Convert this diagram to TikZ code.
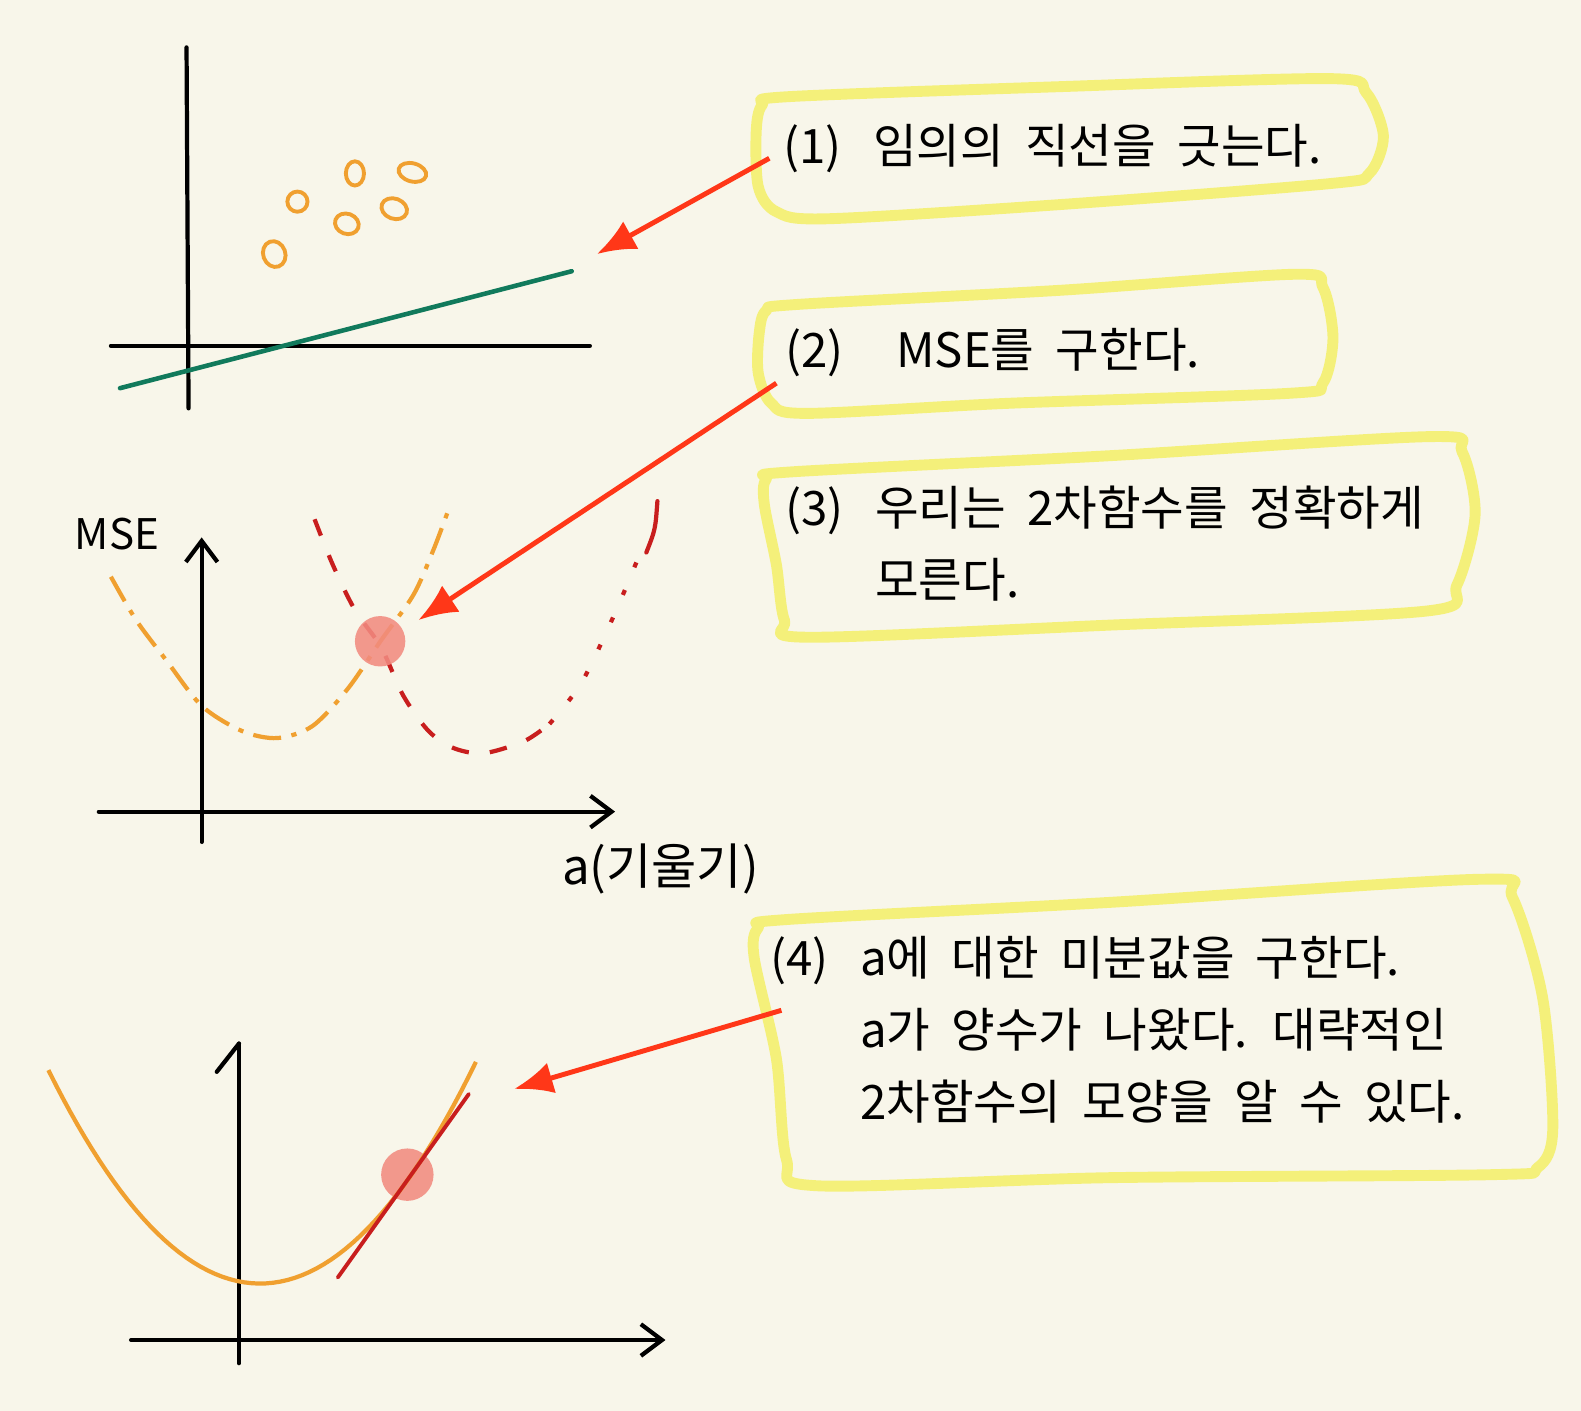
\documentclass[tikz,border=0pt]{standalone}
\usepackage{fontspec}
\newfontfamily\krfont[WordSpace=2]{Noto Sans CJK KR}
\usetikzlibrary{arrows.meta,positioning}
\definecolor{paper}{HTML}{F8F6EA}
\definecolor{marker}{HTML}{F4F07A}
\definecolor{dotorange}{HTML}{F0A030}
\definecolor{fitgreen}{HTML}{117A5C}
\definecolor{msered}{HTML}{C81E1E}
\definecolor{pointpink}{HTML}{F28B80}
\definecolor{arrowred}{HTML}{FF3718}

\tikzset{
  axis/.style={line width=1.2pt,line cap=round},
  barb/.style={-{Straight Barb[length=6pt,width=9pt,line width=1.2pt]}},
  ring/.style={dotorange,line width=1.1pt},
  marker line/.style={marker,line width=3.1pt,line join=round},
  pointer/.style={arrowred,line width=1.4pt,-{Latex[length=11pt,width=9pt]}},
  spot/.style={pointpink,fill opacity=0.88},
  note/.style={font={\krfont\fontsize{13.5}{20.5}\selectfont},inner sep=0,anchor=west},
  hand/.style={font={\krfont\fontsize{12}{14}\selectfont},inner sep=0},
}
\newcommand{\stepnote}[2]{\begin{tabular}{@{}l@{\hspace{9pt}}l@{}}#1 & #2\end{tabular}}

\begin{document}
\begin{tikzpicture}[x=0.01008cm,y=-0.01008cm]
\useasboundingbox (0,0) rectangle (1568,1399);
\fill[paper] (0,0) rectangle (1568,1399);
% (1) data points and a first line
\draw[axis] (185,47) -- (187,405);
\draw[axis] (110,343) -- (585,343);
\foreach \x/\y/\rx/\ry/\a in {272/252/11/13/20,295/200/10/10/0,352/172/9/12/0,409/171/14/9/-15,344/222/12/10/-20,391/207/13/10/-20}
  \draw[ring,rotate around={\a:(\x,\y)}] (\x,\y) ellipse[x radius=\rx,y radius=\ry];
\draw[fitgreen,line width=1.3pt,line cap=round] (119,385) -- (567,269);

% notes
\draw[marker line] plot[smooth cycle,tension=0.5] coordinates {(750,130) (756,104) (780,96) (1050,86) (1320,78) (1355,92) (1372,135) (1358,172) (1320,182) (1050,203) (820,217) (770,210) (752,185)};
\node[note] (n1) at (776,148) {\stepnote{(1)}{임의의 직선을 긋는다.}};
\draw[marker line] plot[smooth cycle,tension=0.5] coordinates {(753,330) (760,308) (790,302) (1050,288) (1285,272) (1312,285) (1322,335) (1312,380) (1280,390) (1000,400) (800,410) (765,400) (752,370)};
\node[note] (n2) at (778,350) {\begin{tabular}{@{}l@{\hspace{15pt}}l@{}}(2) & MSE를 구한다.\end{tabular}};
\draw[marker line] plot[smooth cycle,tension=0.5] coordinates {(758,500) (760,475) (785,468) (1100,452) (1420,433) (1450,448) (1463,510) (1445,580) (1415,606) (1100,620) (800,632) (778,615) (770,560)};
\node[note] (n3) at (778,543) {\stepnote{(3)}{우리는 2차함수를 정확하게\\ & 모른다.}};
\draw[marker line] plot[smooth cycle,tension=0.5] coordinates {(748,950) (752,920) (780,912) (1100,895) (1470,872) (1500,890) (1530,990) (1540,1120) (1525,1158) (1480,1165) (1100,1168) (810,1176) (780,1150) (770,1050)};
\node[note] (n4) at (763,1025) {\stepnote{(4)}{a에 대한 미분값을 구한다.\\ & a가 양수가 나왔다. 대략적인\\ & 2차함수의 모양을 알 수 있다.}};

% pointers
\coordinate (s1) at (763,157);
\coordinate (p1) at (592,252);
\coordinate (s2) at (770,380);
\coordinate (p2) at (415,615);
\coordinate (s4) at (775,1002);
\coordinate (p4) at (510,1080);
\draw[pointer] (s1) -- (p1);
\draw[pointer] (s2) -- (p2);
\draw[pointer] (s4) -- (p4);

% (2)(3) MSE against slope
\draw[axis,barb] (200,835) -- (200,533);
\draw[axis,barb] (98,805) -- (610,805);
\node[hand] (mselabel) at (116,530) {MSE};
\node[hand,font={\krfont\fontsize{14}{16}\selectfont}] (alabel) at (655,862) {a(기울기)};
\draw[dotorange,line width=1.2pt,dash pattern=on 8pt off 3pt on 1.5pt off 3pt] plot[smooth] coordinates {(110,572) (135,615) (165,655) (200,700) (240,725) (275,732) (310,720) (345,683) (378,635) (410,590) (430,545) (445,505)};
\draw[msered,line width=1.2pt,dash pattern=on 5pt off 6pt] plot[smooth] coordinates {(312,515) (330,560) (352,605) (378,642) (400,690) (425,725) (450,742) (480,747) (520,735) (545,718)};
\draw[msered,line width=1.2pt,dash pattern=on 1.5pt off 7pt] plot[smooth] coordinates {(545,718) (575,680) (600,630) (622,580) (635,548)};
\draw[msered,line width=1.2pt,line cap=round] (641,548) .. controls (650,525) .. (652,497);
\fill[spot] (377,636) circle[radius=25];

% (4) slope at the point
\draw[axis] (237,1352) -- (237,1035);
\draw[axis] (215,1063) -- (237,1035);
\draw[axis,barb] (130,1329) -- (660,1329);
\fill[spot] (404,1165) circle[radius=26];
\draw[dotorange,line width=1.2pt] plot[domain=48:472,samples=60] (\x,{1273-48*((\x-258)/100)^2});
\draw[msered,line width=1.1pt,line cap=round] (335,1267) -- (465,1085);
\end{tikzpicture}
\end{document}
